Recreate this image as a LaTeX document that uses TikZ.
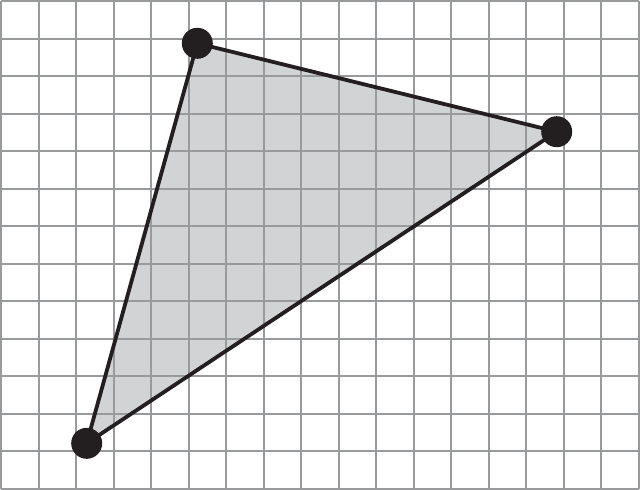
\documentclass[tikz,border=0pt]{standalone}
\begin{document}
\begin{tikzpicture}[x=1pt,y=-1pt,
  gridline/.style={draw=gridgray,line width=2pt},
  edge/.style={draw=inkblack,line width=3.8pt,line join=round},
  vertex/.style={circle,fill=inkblack,inner sep=0pt,minimum size=31pt}]
\definecolor{gridgray}{HTML}{999A9C}
\definecolor{inkblack}{HTML}{231F20}
\definecolor{fillgray}{HTML}{D1D3D4}
\useasboundingbox (0,0) rectangle (640,490);
\coordinate (A) at (197.3,43.3);
\coordinate (B) at (556.7,131.7);
\coordinate (C) at (86.7,443.3);
\fill[fillgray] (A) -- (B) -- (C) -- cycle;
\foreach \i in {0,...,17} \draw[gridline] (1+37.5*\i,1) -- (1+37.5*\i,488.5);
\foreach \j in {0,...,13} \draw[gridline] (1,1+37.5*\j) -- (638.5,1+37.5*\j);
\draw[edge] (A) -- (B) -- (C) -- cycle;
\node[vertex] (a) at (A) {};
\node[vertex] (b) at (B) {};
\node[vertex] (c) at (C) {};
\end{tikzpicture}
\end{document}
